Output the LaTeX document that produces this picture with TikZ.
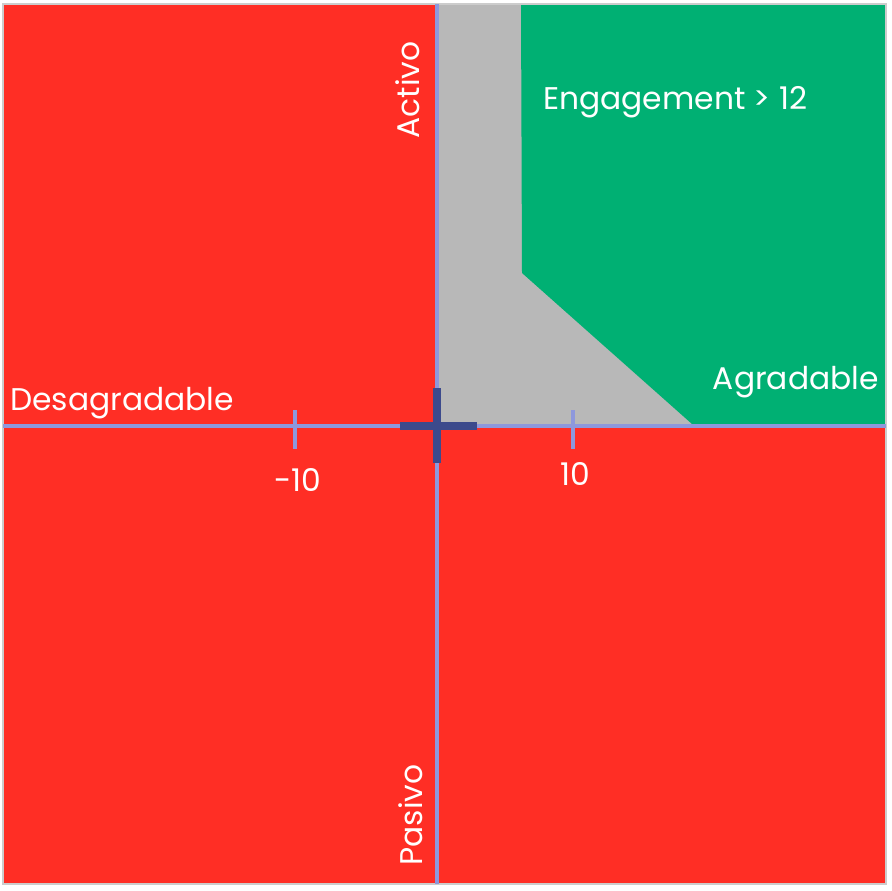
\documentclass[tikz,border=0pt]{standalone}
\usepackage{fontspec}
\setmainfont{Poppins}
\usepackage{xcolor}
\usetikzlibrary{positioning}
\definecolor{quadred}{HTML}{FF2E25}
\definecolor{zonegray}{HTML}{B8B8B8}
\definecolor{zonegreen}{HTML}{00B073}
\definecolor{axisblue}{HTML}{8E98DC}
\definecolor{crossnavy}{HTML}{3C4A8C}

\begin{document}
\begin{tikzpicture}[x=0.75pt,y=-0.75pt,
    lbl/.style={text=white, inner sep=0pt, font=\fontsize{23.5}{28}\selectfont},
    axis/.style={axisblue, line width=2.6pt}]
    \useasboundingbox (0,0) rectangle (892,890);
    \fill[white] (0,0) rectangle (892,890);
    % Quadrants
    \fill[quadred] (3,4) rectangle (886,884);
    \fill[zonegray] (439,4) rectangle (886,426);
    \fill[zonegreen] (521,4) -- (886,4) -- (886,424) -- (692,424) -- (522,273) -- cycle;
    \draw[black!20, line width=1pt] (3,4) rectangle (886,884);
    % Axes and ticks
    \draw[axis] (3,426) -- (886,426);
    \draw[axis] (437,4) -- (437,884);
    \foreach \x in {295,573} \draw[axis] (\x,410) -- (\x,449);
    % Origin
    \draw[crossnavy, line width=6pt] (400,426) -- (477,426);
    \draw[crossnavy, line width=6pt] (437,388) -- (437,463);
    % Labels
    \node[lbl] (neg) at (298,480) {-10};
    \node[lbl] (pos) at (575,474) {10};
    \node[lbl, anchor=west] (desag) at (10,403) {Desagradable};
    \node[lbl, anchor=east] (agrad) at (879,382) {Agradable};
    \node[lbl, anchor=west] (engage) at (543,102) {Engagement > 12};
    \node[lbl, rotate=90] (activo) at (408,90) {Activo};
    \node[lbl, rotate=90] (pasivo) at (411,815) {Pasivo};
\end{tikzpicture}
\end{document}
